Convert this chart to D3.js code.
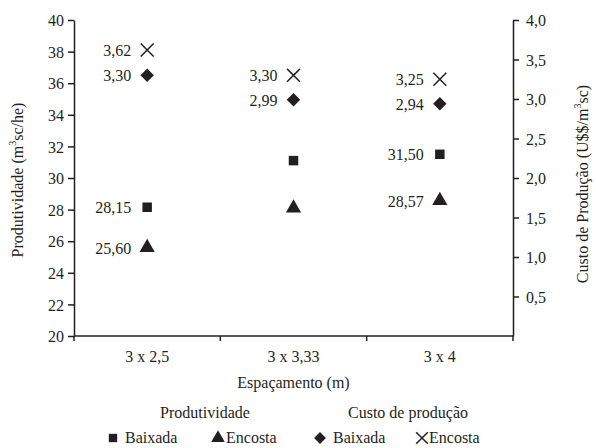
<!DOCTYPE html>
<html>
<head>
<meta charset="utf-8">
<script src="https://cdn.jsdelivr.net/npm/d3@7"></script>
<style>
  body { margin: 0; background: #fff; }
</style>
</head>
<body>
<svg id="chart"></svg>
<script>
// data
let categories = ["3 x 2,5", "3 x 3,33", "3 x 4"];
let prodBaixada = [28.15, 31.1, 31.50];
let prodEncosta = [25.60, 28.1, 28.57];
let custoBaixada = [3.30, 2.99, 2.94];
let custoEncosta = [3.62, 3.30, 3.25];
let prodBaixadaLabels = ["28,15", "", "31,50"];
let prodEncostaLabels = ["25,60", "", "28,57"];
let custoBaixadaLabels = ["3,30", "2,99", "2,94"];
let custoEncostaLabels = ["3,62", "3,30", "3,25"];
let leftTicks = [20, 22, 24, 26, 28, 30, 32, 34, 36, 38, 40];
let rightTicks = [0.5, 1.0, 1.5, 2.0, 2.5, 3.0, 3.5, 4.0];

let W = 596, H = 448;
let margin = { top: 20, right: 83, bottom: 112, left: 74 };
let width = W - margin.left - margin.right;
let height = H - margin.top - margin.bottom;
let ink = "#231f20";
let font = "Liberation Serif, DejaVu Serif, Noto Serif, Times New Roman, Times, serif";
let fs = "16px";

let x = d3.scaleBand().domain(categories).range([0, width]);
let yL = d3.scaleLinear().domain([20, 40]).range([height, 0]);
let yR = d3.scaleLinear().domain([0, 4]).range([height, 0]);

// diamond = square turned 45 degrees
let diamond = {
  draw(ctx, size) {
    let r = Math.sqrt(size / 2);
    ctx.moveTo(0, -r); ctx.lineTo(r, 0); ctx.lineTo(0, r); ctx.lineTo(-r, 0); ctx.closePath();
  }
};

let root = d3.select("#chart")
  .attr("width", W)
  .attr("height", H)
  .attr("font-family", font);
let svg = root.append("g")
  .attr("transform", "translate(" + margin.left + "," + margin.top + ")");

// left axis
let gL = svg.append("g")
  .call(d3.axisLeft(yL).tickValues(leftTicks).tickSize(6).tickSizeOuter(0).tickPadding(4));
// right axis
let gR = svg.append("g")
  .attr("transform", "translate(" + width + ",0)")
  .call(d3.axisRight(yR).tickValues(rightTicks).tickSize(6).tickSizeOuter(0).tickPadding(7)
    .tickFormat(d => d3.format(".1f")(d).replace(".", ",")));
// x axis
let xTickPos = [0, x.bandwidth(), 2 * x.bandwidth(), width];
let gX = svg.append("g")
  .attr("transform", "translate(0," + height + ")");
gX.append("line").attr("x1", 0).attr("x2", width).attr("stroke", ink).attr("stroke-width", 1.5);
gX.selectAll(".xt").data(xTickPos).enter().append("line")
  .attr("x1", d => d).attr("x2", d => d).attr("y1", 0).attr("y2", 5)
  .attr("stroke", ink).attr("stroke-width", 1.5);
gX.selectAll(".xl").data(categories).enter().append("text")
  .attr("x", d => x(d) + x.bandwidth() / 2)
  .attr("y", 26)
  .attr("text-anchor", "middle")
  .attr("fill", ink)
  .attr("font-size", fs)
  .text(d => d);

[gL, gR].forEach(g => {
  g.attr("font-family", font).attr("font-size", fs);
  g.select(".domain").attr("stroke", ink).attr("stroke-width", 1.5);
  g.selectAll(".tick line").attr("stroke", ink).attr("stroke-width", 1.5);
  g.selectAll(".tick text").attr("fill", ink).attr("dy", "0.35em");
});

// axis titles
svg.append("text")
  .attr("x", width / 2).attr("y", height + 52)
  .attr("text-anchor", "middle").attr("fill", ink).attr("font-size", fs)
  .text("Espaçamento (m)");

let tL = svg.append("text")
  .attr("transform", "translate(" + (-51) + "," + (height / 2 + 2) + ") rotate(-90)")
  .attr("text-anchor", "middle").attr("fill", ink).attr("font-size", fs);
tL.append("tspan").text("Produtividade (m");
tL.append("tspan").attr("dy", -7).attr("font-size", "10px").text("3");
tL.append("tspan").attr("dy", 7).text("sc/he)");

let tR = svg.append("text")
  .attr("transform", "translate(" + (width + 75) + "," + (height / 2 + 6) + ") rotate(-90)")
  .attr("text-anchor", "middle").attr("fill", ink).attr("font-size", fs);
tR.append("tspan").text("Custo de Produção (U$$/m");
tR.append("tspan").attr("dy", -7).attr("font-size", "10px").text("3");
tR.append("tspan").attr("dy", 7).text("sc)");

// marks
let cx = d => x(d) + x.bandwidth() / 2;
let series = [
  { vals: prodBaixada, labels: prodBaixadaLabels, y: yL, sym: d3.symbolSquare, size: 90 },
  { vals: prodEncosta, labels: prodEncostaLabels, y: yL, sym: d3.symbolTriangle, size: 100 },
  { vals: custoBaixada, labels: custoBaixadaLabels, y: yR, sym: diamond, size: 90 },
  { vals: custoEncosta, labels: custoEncostaLabels, y: yR, sym: d3.symbolX, size: 110 }
];

series.forEach(s => {
  let g = svg.append("g");
  g.selectAll("path").data(categories).enter().append("path")
    .attr("transform", (c, i) => "translate(" + cx(c) + "," + s.y(s.vals[i]) + ")")
    .attr("d", d3.symbol().type(s.sym).size(s.size))
    .attr("fill", s.sym === d3.symbolX ? "none" : ink)
    .attr("stroke", s.sym === d3.symbolX ? ink : "none")
    .attr("stroke-width", 1.5);
  g.selectAll("text").data(categories).enter().append("text")
    .attr("x", c => cx(c) - 16)
    .attr("y", (c, i) => s.y(s.vals[i]) + 6)
    .attr("text-anchor", "end")
    .attr("fill", ink)
    .attr("font-size", fs)
    .text((c, i) => s.labels[i]);
});

// legend
let legY = height + 82;
svg.append("text").attr("x", 131).attr("y", legY).attr("text-anchor", "middle")
  .attr("fill", ink).attr("font-size", fs).text("Produtividade");
svg.append("text").attr("x", 334).attr("y", legY).attr("text-anchor", "middle")
  .attr("fill", ink).attr("font-size", fs).text("Custo de produção");

let legend = [
  { label: "Baixada", sym: d3.symbolSquare, size: 70, x: 39, tx: 51 },
  { label: "Encosta", sym: d3.symbolTriangle, size: 80, x: 144, tx: 152 },
  { label: "Baixada", sym: diamond, size: 70, x: 246, tx: 259 },
  { label: "Encosta", sym: d3.symbolX, size: 90, x: 348, tx: 355 }
];
let lg = svg.append("g").attr("transform", "translate(0," + (height + 107) + ")");
lg.selectAll("path").data(legend).enter().append("path")
  .attr("transform", d => "translate(" + d.x + ",-5)")
  .attr("d", d => d3.symbol().type(d.sym).size(d.size)())
  .attr("fill", d => d.sym === d3.symbolX ? "none" : ink)
  .attr("stroke", d => d.sym === d3.symbolX ? ink : "none")
  .attr("stroke-width", 1.5);
lg.selectAll("text").data(legend).enter().append("text")
  .attr("x", d => d.tx)
  .attr("y", 0)
  .attr("fill", ink)
  .attr("font-size", fs)
  .text(d => d.label);
</script>
</body>
</html>
